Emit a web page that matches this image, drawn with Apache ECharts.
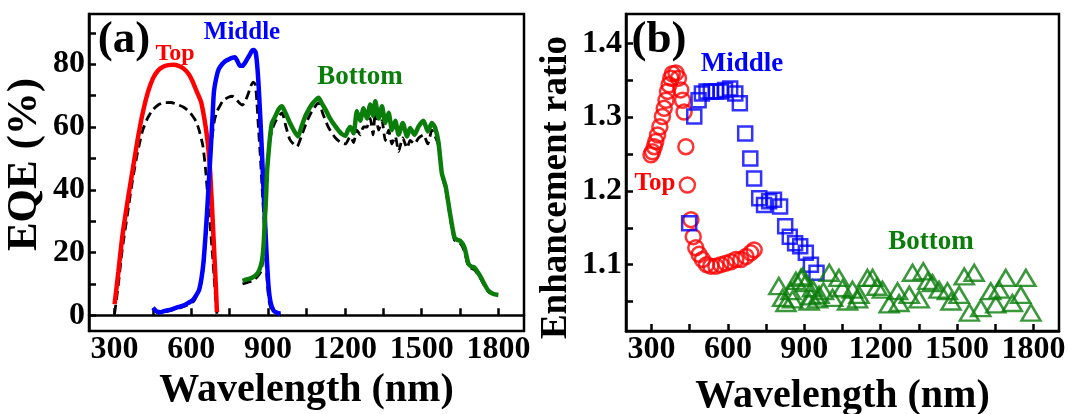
<!DOCTYPE html>
<html>
<head>
<meta charset="utf-8">
<script src="https://cdn.jsdelivr.net/npm/echarts@6/dist/echarts.min.js"></script>
<style>
html,body{margin:0;padding:0;background:#fff;}
#chart{width:1069px;height:414px;}
</style>
</head>
<body>
<div id="chart"></div>
<script>
// ---------- Panel (a): EQE curves ----------
var topWl   = [300,315,330,350,370,390,410,430,450,470,490,510,530,550,570,590,605,620,638,652,664,674,683,690,696,700];
var topEqe  = [3.5,14,25,36,46,56,64.5,71,75.5,78,79.2,79.7,79.8,79.5,78.6,76.8,74.5,71.5,68,62,55,45,31,19,9,1];
var topRefWl  = [300,315,330,350,370,390,410,430,450,470,490,520,550,570,590,605,620,632,645,655,662,672,682,690,697,700];
var topRefEqe = [0.5,10,21,32,43,52,59,63,65.5,67,67.7,67.8,67,66.3,65,63.5,61.5,58.5,54,47,40,30,20,11,3,0.5];

var midWl   = [450,465,480,500,520,545,565,585,605,620,630,640,648,655,661,668,675,682,688,697,707,720,733,745,759,770,780,790,800,810,818,828,837,845,852,858,863,870,876,882,889,895,902,910,922,935,948];
var midEqe  = [2.4,1.2,1.0,1.5,1.8,2.5,3.0,3.8,4.8,6.5,8,12,17.4,25,32.4,42,51.7,62,71,75.5,78.4,80,81,81.5,82,82.2,81,79.5,79.5,80.5,81.6,83,84.3,84.5,83.5,79,73,62,51.7,40,28,18,8.9,4,1.4,0.8,0.5];
var midRefWl  = [450,470,500,530,560,590,610,625,637,648,658,665,672,680,690,700,710,725,745,760,775,790,800,812,822,832,842,850,856,862,870,877,884,890,897,905,915,930,948];
var midRefEqe = [2,0.8,1.2,1.8,2.5,3.5,4.5,7,10,16,26,36,46,56,62,65,66.5,68.5,69.5,69.8,68.8,67.5,67,68.5,70.5,73,74.3,73.5,68,60,50,40,30,20,10,4,1.5,0.8,0.3];

var botWl   = [800,820,837,855,866,876,882,887,892,896,902,909,915,928,940,954,965,974,987,1000,1017,1030,1045,1058,1071,1085,1097,1110,1124,1140,1163,1185,1202,1212,1221,1234,1247,1260,1273,1286,1299,1310,1319,1332,1345,1358,1371,1384,1397,1410,1426,1443,1455,1472,1488,1507,1524,1540,1553,1566,1579,1594,1611,1628,1640,1650,1667,1683,1695,1706,1728,1745,1761,1780,1800];
var botEqe  = [11,11.5,12,13,14.5,17.4,22,30,38,46,52,58,61.3,63.4,65.5,66.6,65,63.4,61,59,57,60,63.4,65.5,67.2,68.5,69.3,67.5,65.6,63,60.2,58,57.2,59,60,58,65,62,66,62.7,67.2,63.6,68.2,62.7,66.6,61.3,64.5,59,62,57.5,61.3,57,59.7,57.5,60.2,62,58.6,61.3,59.7,55,45.2,41,32.4,24.9,24,23.8,21.7,16.4,15.5,15.2,12.6,10,7.8,6.8,6.5];
var botRefWl  = [800,820,840,860,872,880,886,892,897,905,915,930,954,970,985,1000,1013,1030,1050,1071,1097,1115,1135,1163,1185,1202,1221,1234,1247,1260,1273,1286,1299,1310,1319,1332,1345,1358,1371,1384,1397,1410,1426,1443,1455,1472,1488,1507,1524,1540,1553,1566,1579,1594,1611,1628,1650,1667,1683,1706,1728,1761,1795];
var botRefEqe = [10,10.5,11,12.5,14,18,26,36,46,55,59,62,64.5,60,56,54.5,53.8,57,61.5,65,67.7,64,60,56.5,55,54.6,57,55,59,57.5,60,60,62.7,57.5,65,59,62,55.7,59,54.6,57,52.2,56.5,53.3,55.7,54.6,56.5,57.5,54.6,59,57,54,45,40,31.5,24,23,20.5,15.5,14.5,12,7.5,6.3];

// ---------- Panel (b): enhancement ratio ----------
var topRatioWl = [298,304,311,317,324,333,343,350,357,363,369,376,382,396,406,415,422,428,435,441,455,464,474,487,500,516,533,553,572,592,612,631,651,671,690,703];
var topRatio   = [1.249,1.253,1.260,1.267,1.276,1.287,1.301,1.312,1.323,1.335,1.344,1.353,1.359,1.360,1.353,1.337,1.323,1.307,1.260,1.208,1.161,1.138,1.123,1.114,1.107,1.100,1.098,1.098,1.100,1.102,1.104,1.107,1.107,1.111,1.116,1.120];

var midRatioWl = [448,468,485,498,516,533,553,572,589,609,629,647,668,688,703,723,742,762,781,805,825,843,864,884,906,926,948];
var midRatio   = [1.156,1.301,1.323,1.332,1.335,1.335,1.335,1.335,1.337,1.339,1.332,1.319,1.278,1.244,1.217,1.190,1.181,1.186,1.188,1.179,1.152,1.138,1.129,1.125,1.116,1.100,1.089];

var botRatioWl = [800,815,828,847,854,867,887,894,905,919,925,932,952,958,975,998,1011,1036,1050,1070,1089,1109,1115,1148,1168,1185,1207,1233,1266,1272,1312,1325,1351,1367,1385,1403,1429,1462,1476,1508,1528,1548,1567,1593,1632,1652,1665,1691,1717,1750,1770,1790];
var botRatio   = [1.071,1.055,1.048,1.064,1.053,1.078,1.082,1.084,1.075,1.050,1.057,1.068,1.053,1.059,1.064,1.089,1.055,1.082,1.068,1.050,1.066,1.053,1.059,1.082,1.082,1.070,1.066,1.046,1.064,1.048,1.059,1.089,1.053,1.091,1.078,1.075,1.066,1.064,1.050,1.059,1.084,1.035,1.089,1.041,1.064,1.046,1.066,1.082,1.048,1.059,1.082,1.035];

// ---------- Tick labels ----------
var wlTicks    = [300,450,600,750,900,1050,1200,1350,1500,1650,1800];
var wlLabels   = [300,600,900,1200,1500,1800];
var eqeTicks   = [0,10,20,30,40,50,60,70,80,90];
var eqeLabels  = [0,20,40,60,80];
var ratioTicks = [1.05,1.1,1.15,1.2,1.25,1.3,1.35,1.4];
var ratioLabels= [1.1,1.2,1.3,1.4];

function zip(a,b){ return a.map(function(v,i){ return [v,b[i]]; }); }

var SERIF = '"Liberation Serif","Times New Roman",serif';
var RED='#ff0000', BLUE='#0000ff', GREEN='#0a7d0a';

function xAxisCfg(gi, gap){
  return {
    type:'value', gridIndex:gi, min:200, max:1900,
    axisLine:{show:true, lineStyle:{color:'#000', width:2.5}},
    axisTick:{show:true, inside:true, length:7, lineStyle:{color:'#000', width:2.5}, customValues:wlTicks},
    axisLabel:{show:true, customValues:wlLabels, color:'#000', fontFamily:SERIF, fontWeight:'bold', fontSize:32, margin:3,
      formatter:function(v){ return String(Math.round(v)); }},
    splitLine:{show:false},
    name:'Wavelength (nm)', nameLocation:'middle', nameGap:gap,
    nameTextStyle:{color:'#000', fontFamily:SERIF, fontWeight:'bold', fontSize:40}
  };
}

var option = {
  animation:false,
  backgroundColor:'#fff',
  grid:[
    {left:89, top:14, width:435, height:317, show:true, borderColor:'#000', borderWidth:2.5, backgroundColor:'transparent', outerBoundsMode:'none', containLabel:false},
    {left:626, top:14, width:433, height:317, show:true, borderColor:'#000', borderWidth:2.5, backgroundColor:'transparent', outerBoundsMode:'none', containLabel:false}
  ],
  xAxis:[ xAxisCfg(0, 29), xAxisCfg(1, 46) ],
  yAxis:[
    {
      type:'value', gridIndex:0, min:-5, max:96,
      axisLine:{show:true, lineStyle:{color:'#000', width:2.5}},
      axisTick:{show:true, inside:true, length:7, lineStyle:{color:'#000', width:2.5}, customValues:eqeTicks},
      axisLabel:{show:true, customValues:eqeLabels, color:'#000', fontFamily:SERIF, fontWeight:'bold', fontSize:32, margin:4,
        formatter:function(v){ return String(Math.round(v)); }},
      splitLine:{show:false},
      name:'EQE (%)', nameLocation:'middle', nameGap:43,
      nameTextStyle:{color:'#000', fontFamily:SERIF, fontWeight:'bold', fontSize:43, padding:[0,0,0,16]}
    },
    {
      type:'value', gridIndex:1, min:1.01, max:1.44,
      axisLine:{show:true, lineStyle:{color:'#000', width:2.5}},
      axisTick:{show:true, inside:true, length:7, lineStyle:{color:'#000', width:2.5}, customValues:ratioTicks},
      axisLabel:{show:true, customValues:ratioLabels, color:'#000', fontFamily:SERIF, fontWeight:'bold', fontSize:32, margin:4,
        formatter:function(v){ return Number(v).toFixed(1); }},
      splitLine:{show:false},
      name:'Enhancement ratio', nameLocation:'middle', nameGap:51,
      nameTextStyle:{color:'#000', fontFamily:SERIF, fontWeight:'bold', fontSize:37, padding:[0,30,0,0]}
    }
  ],
  series:[
    {type:'line', xAxisIndex:0, yAxisIndex:0, data:zip(topRefWl,topRefEqe), showSymbol:false, smooth:0.2,
      lineStyle:{color:'#000', width:2.8, type:[9,5]}, z:2},
    {type:'line', xAxisIndex:0, yAxisIndex:0, data:zip(midRefWl,midRefEqe), showSymbol:false, smooth:0.2,
      lineStyle:{color:'#000', width:2.8, type:[9,5]}, z:2},
    {type:'line', xAxisIndex:0, yAxisIndex:0, data:zip(botRefWl,botRefEqe), showSymbol:false, smooth:0.2,
      lineStyle:{color:'#000', width:2.8, type:[9,5]}, z:2},
    {type:'line', xAxisIndex:0, yAxisIndex:0, data:zip(topWl,topEqe), showSymbol:false, smooth:0.2,
      lineStyle:{color:RED, width:4.5}, z:3},
    {type:'line', xAxisIndex:0, yAxisIndex:0, data:zip(midWl,midEqe), showSymbol:false, smooth:0.2,
      lineStyle:{color:BLUE, width:4.5}, z:3},
    {type:'line', xAxisIndex:0, yAxisIndex:0, data:zip(botWl,botEqe), showSymbol:false, smooth:0.2,
      lineStyle:{color:GREEN, width:4.5}, z:3},

    {type:'scatter', xAxisIndex:1, yAxisIndex:1, data:zip(topRatioWl,topRatio), symbol:'circle', symbolSize:15,
      itemStyle:{color:'rgba(0,0,0,0)', borderColor:RED, borderWidth:2.5}},
    {type:'scatter', xAxisIndex:1, yAxisIndex:1, data:zip(midRatioWl,midRatio), symbol:'rect', symbolSize:14,
      itemStyle:{color:'rgba(0,0,0,0)', borderColor:BLUE, borderWidth:2.5}},
    {type:'scatter', xAxisIndex:1, yAxisIndex:1, data:zip(botRatioWl,botRatio), symbol:'triangle', symbolSize:[19,16],
      itemStyle:{color:'rgba(0,0,0,0)', borderColor:GREEN, borderWidth:2.5}}
  ],
  graphic:[
    {type:'text', x:124, y:40, style:{text:'(a)', fill:'#000', font:'bold 45px '+SERIF, align:'center', verticalAlign:'middle'}},
    {type:'text', x:175, y:54, style:{text:'Top', fill:RED, font:'bold 24px '+SERIF, align:'center', verticalAlign:'middle'}},
    {type:'text', x:242, y:33, style:{text:'Middle', fill:BLUE, font:'bold 25px '+SERIF, align:'center', verticalAlign:'middle'}},
    {type:'text', x:360, y:77, style:{text:'Bottom', fill:GREEN, font:'bold 27px '+SERIF, align:'center', verticalAlign:'middle'}},
    {type:'text', x:659, y:40, style:{text:'(b)', fill:'#000', font:'bold 45px '+SERIF, align:'center', verticalAlign:'middle'}},
    {type:'text', x:742, y:64, style:{text:'Middle', fill:BLUE, font:'bold 27px '+SERIF, align:'center', verticalAlign:'middle'}},
    {type:'text', x:655, y:184, style:{text:'Top', fill:RED, font:'bold 25px '+SERIF, align:'center', verticalAlign:'middle'}},
    {type:'text', x:931, y:242, style:{text:'Bottom', fill:GREEN, font:'bold 27px '+SERIF, align:'center', verticalAlign:'middle'}}
  ]
};

var chart = echarts.init(document.getElementById('chart'), null, {renderer:'canvas'});
chart.setOption(option);
</script>
</body>
</html>
